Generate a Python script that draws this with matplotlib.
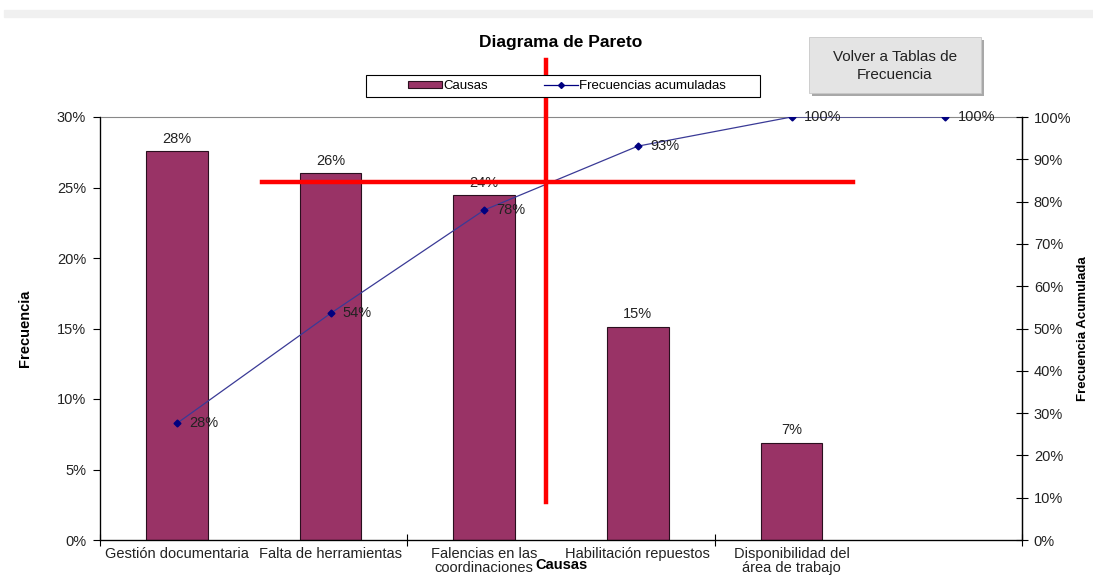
"""Diagrama de Pareto: causas y frecuencia acumulada."""
import matplotlib.pyplot as plt
import matplotlib.patches as mpatches
from matplotlib.lines import Line2D
from matplotlib.ticker import PercentFormatter, FixedLocator
import numpy as np

plt.rcParams.update({'font.family': ['Liberation Sans', 'DejaVu Sans'],
                     'font.size': 10, 'figure.dpi': 100})

# Datos
causas = ['Gestión documentaria', 'Falta de herramientas',
          'Falencias en las\ncoordinaciones', 'Habilitación repuestos',
          'Disponibilidad del\nárea de trabajo', '']
frecuencia = [0.2756, 0.2600, 0.2444, 0.1511, 0.0689, 0.0]
acumulada = [0.2756, 0.5356, 0.7800, 0.9311, 1.0000, 1.0000]

# Marcas rojas de lectura (punto de corte sobre la curva acumulada)
corte_x, corte_y = 2.40, 0.846
linea_h_x = (0.554, 4.40)
linea_v_y = (1.135, 0.09)

COLOR_BAR = '#993366'
COLOR_LINE = '#3a3a96'
COLOR_MK = '#000080'
FS = 10.5

fig = plt.figure(figsize=(10.93, 5.77))
fig.patches.append(mpatches.Rectangle((0.004, 1 - 17/577), 0.996, 7/577,
                                      transform=fig.transFigure,
                                      color='#f0f0f0', zorder=0))

ax = fig.add_axes([100/1093, 1 - 540/577, 922/1093, 423/577])
x = np.arange(len(causas))

n_bar = 5
ax.bar(x[:n_bar], frecuencia[:n_bar], width=0.40, color=COLOR_BAR,
       edgecolor='#2a0f1e', linewidth=0.8, zorder=2)
for xi, v in zip(x[:n_bar], frecuencia[:n_bar]):
    ax.text(xi, v + 0.004, f'{v:.0%}', ha='center', va='bottom',
            fontsize=FS, color='#222')

ax.set_xlim(-0.5, len(causas) - 0.5)
ax.set_ylim(0, 0.30)
ax.yaxis.set_major_locator(FixedLocator(np.arange(0, 0.301, 0.05)))
ax.yaxis.set_major_formatter(PercentFormatter(1.0, decimals=0))
ax.set_xticks(x)
ax.set_xticklabels(causas, fontsize=FS, color='#222', linespacing=1.05)
ax.tick_params(axis='x', length=0, pad=5)
ax.xaxis.set_minor_locator(FixedLocator([-0.5, 1.5, 3.5, 5.5]))
ax.tick_params(axis='x', which='minor', direction='inout', length=9, width=0.8)
ax.tick_params(axis='y', direction='out', length=5, width=0.8,
               labelsize=FS, labelcolor='#222', pad=5)
for s in ['left', 'bottom', 'right']:
    ax.spines[s].set_linewidth(0.9)
ax.spines['top'].set_color('#888')
ax.spines['top'].set_linewidth(0.8)
ax.set_ylabel('Frecuencia', fontweight='bold', fontsize=10.5, labelpad=18)
ax.set_xlabel('Causas', fontweight='bold', fontsize=10.5, labelpad=-12.5)

ax2 = ax.twinx()
ax2.plot(x, acumulada, color=COLOR_LINE, linewidth=0.9, marker='D',
         markersize=3.5, markerfacecolor=COLOR_MK, markeredgecolor=COLOR_MK,
         zorder=3)
for xi, v in zip(x, acumulada):
    ax2.text(xi + 0.08, v, f'{v:.0%}', ha='left', va='center',
             fontsize=FS, color='#222')
ax2.set_ylim(0, 1.0)
ax2.yaxis.set_major_locator(FixedLocator(np.arange(0, 1.001, 0.1)))
ax2.yaxis.set_major_formatter(PercentFormatter(1.0, decimals=0))
ax2.tick_params(axis='y', direction='inout', length=9, width=0.8,
                labelsize=FS, labelcolor='#222', pad=4)
ax2.spines['right'].set_linewidth(0.9)
ax2.spines['top'].set_visible(False)
ax2.set_ylabel('Frecuencia Acumulada', fontweight='bold', fontsize=9.5,
               labelpad=4)

# Líneas rojas de referencia
ax2.plot(linea_h_x, [corte_y, corte_y], color='red', linewidth=3.2,
         clip_on=False, zorder=5)
ax2.plot([corte_x, corte_x], linea_v_y, color='red', linewidth=3.2,
         clip_on=False, zorder=5)

fig.text(561/1093, 1 - 43/577, 'Diagrama de Pareto', ha='center',
         va='center', fontweight='bold', fontsize=12.5)

# Leyenda: recuadro propio y entradas centradas dentro
fig.patches.append(mpatches.Rectangle((366/1093, 1 - 97/577), 394/1093, 22/577,
                                      transform=fig.transFigure,
                                      facecolor='white', edgecolor='black',
                                      linewidth=0.8, zorder=1))
handles = [mpatches.Patch(facecolor=COLOR_BAR, edgecolor='#2a0f1e',
                          linewidth=0.8, label='Causas'),
           Line2D([], [], color=COLOR_MK, linewidth=0.9, marker='D',
                  markersize=3, label='Frecuencias acumuladas')]
leg = fig.legend(handles=handles, loc='center',
                 bbox_to_anchor=(567/1093, 1 - 86/577), ncol=2,
                 frameon=False, fontsize=9.5,
                 handlelength=2.6, handleheight=0.5, columnspacing=4.2,
                 borderpad=0, handletextpad=0.1, borderaxespad=0)
leg.set_zorder(2)

# Botón
fig.patches.append(mpatches.Rectangle((812/1093, 1 - 96/577), 172/1093, 56/577,
                                      transform=fig.transFigure,
                                      facecolor='#a8a8a8', edgecolor='none'))
fig.patches.append(mpatches.Rectangle((809/1093, 1 - 93/577), 172/1093, 56/577,
                                      transform=fig.transFigure,
                                      facecolor='#e4e4e4', edgecolor='#c8c8c8',
                                      linewidth=0.6))
fig.text(895/1093, 1 - 66/577, 'Volver a Tablas de\nFrecuencia', ha='center',
         va='center', fontsize=11, color='#222', linespacing=1.3)

fig.savefig('out.png', dpi=100, facecolor='white')
